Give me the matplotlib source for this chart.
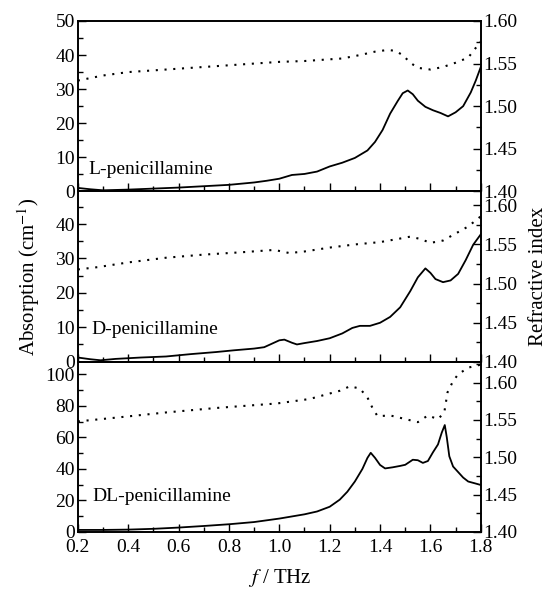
import matplotlib
matplotlib.use("Agg")
import matplotlib.pyplot as plt
from matplotlib.ticker import MultipleLocator, FormatStrFormatter

plt.rcParams["font.family"] = ["Liberation Serif", "DejaVu Serif"]
plt.rcParams["mathtext.fontset"] = "stix"

# L-penicillamine
f_L_abs = [0.20, 0.25, 0.30, 0.40, 0.50, 0.60, 0.70, 0.80, 0.90, 0.95, 1.00, 1.05, 1.10, 1.15,
           1.20, 1.25, 1.30, 1.35, 1.38, 1.41, 1.44, 1.47, 1.49, 1.51, 1.53, 1.55, 1.58, 1.61,
           1.64, 1.67, 1.70, 1.73, 1.76, 1.78, 1.80]
abs_L = [1.0, 0.6, 0.3, 0.5, 0.8, 1.1, 1.5, 1.9, 2.6, 3.1, 3.7, 4.8, 5.1, 5.8,
         7.3, 8.4, 9.8, 12.0, 14.5, 18.0, 22.8, 26.5, 28.8, 29.6, 28.5, 26.6, 24.8, 23.8,
         23.0, 22.0, 23.2, 25.0, 29.0, 32.5, 36.5]
f_L_n = [0.20, 0.25, 0.30, 0.40, 0.55, 0.70, 0.85, 1.00, 1.10, 1.25, 1.32, 1.38, 1.43, 1.46,
         1.49, 1.52, 1.55, 1.60, 1.65, 1.70, 1.75, 1.80]
n_L = [1.530, 1.533, 1.536, 1.540, 1.543, 1.546, 1.549, 1.552, 1.553, 1.556, 1.560, 1.564,
       1.566, 1.565, 1.560, 1.551, 1.545, 1.543, 1.546, 1.551, 1.557, 1.576]

# D-penicillamine
f_D_abs = [0.20, 0.25, 0.29, 0.35, 0.45, 0.55, 0.65, 0.75, 0.82, 0.90, 0.94, 0.97, 1.00, 1.02,
           1.05, 1.07, 1.10, 1.15, 1.20, 1.25, 1.29, 1.32, 1.36, 1.40, 1.44, 1.48, 1.52, 1.55,
           1.58, 1.60, 1.62, 1.65, 1.68, 1.71, 1.74, 1.77, 1.80]
abs_D = [1.2, 0.7, 0.4, 0.8, 1.2, 1.5, 2.2, 2.8, 3.3, 3.8, 4.2, 5.2, 6.2, 6.4,
         5.5, 5.0, 5.4, 6.0, 6.8, 8.2, 9.8, 10.4, 10.4, 11.3, 13.0, 15.8, 20.5, 24.5,
         27.1, 25.8, 24.0, 23.1, 23.6, 25.5, 29.5, 34.0, 37.0]
f_D_n = [0.20, 0.28, 0.40, 0.55, 0.70, 0.85, 0.98, 1.04, 1.10, 1.20, 1.30, 1.40, 1.47, 1.52,
         1.56, 1.60, 1.65, 1.70, 1.75, 1.80]
n_D = [1.518, 1.521, 1.527, 1.533, 1.537, 1.540, 1.543, 1.539, 1.541, 1.546, 1.550, 1.553,
       1.557, 1.560, 1.557, 1.552, 1.555, 1.564, 1.573, 1.586]

# DL-penicillamine
f_DL_abs = [0.20, 0.30, 0.40, 0.50, 0.60, 0.70, 0.80, 0.90, 1.00, 1.10, 1.15, 1.20, 1.24, 1.27,
            1.30, 1.33, 1.35, 1.363, 1.38, 1.40, 1.42, 1.45, 1.48, 1.50, 1.53, 1.55, 1.57, 1.59,
            1.61, 1.63, 1.645, 1.657, 1.665, 1.675, 1.69, 1.71, 1.73, 1.75, 1.78, 1.80]
abs_DL = [1.3, 1.3, 1.5, 2.0, 2.8, 3.8, 4.9, 6.3, 8.5, 11.2, 13.0, 16.0, 20.5, 25.5,
          32.0, 40.0, 47.0, 50.2, 47.0, 42.5, 40.3, 41.0, 41.9, 42.6, 45.8, 45.5, 43.8, 45.0,
          50.5, 55.5, 63.0, 67.8, 60.0, 48.0, 41.5, 38.0, 34.5, 32.0, 30.7, 29.8]
f_DL_n = [0.20, 0.35, 0.55, 0.75, 0.99, 1.12, 1.24, 1.28, 1.32, 1.35, 1.37, 1.39, 1.44, 1.49,
          1.55, 1.59, 1.63, 1.655, 1.668, 1.69, 1.71, 1.75, 1.80]
n_DL = [1.548, 1.553, 1.560, 1.566, 1.572, 1.578, 1.589, 1.595, 1.592, 1.580, 1.566, 1.555,
        1.556, 1.552, 1.547, 1.556, 1.551, 1.560, 1.587, 1.602, 1.611, 1.620, 1.624]

panels = [
    ("L-penicillamine", f_L_abs, abs_L, f_L_n, n_L, (0, 50), (1.40, 1.60), 10, 5, (0.025, 0.13)),
    ("D-penicillamine", f_D_abs, abs_D, f_D_n, n_D, (0, 49.5), (1.40, 1.618), 10, 5, (0.034, 0.186)),
    ("DL-penicillamine", f_DL_abs, abs_DL, f_DL_n, n_DL, (0, 108), (1.40, 1.628), 20, 10, (0.036, 0.21)),
]

fig, axes = plt.subplots(3, 1, figsize=(5.52, 5.93), dpi=100, sharex=True)
fig.subplots_adjust(left=0.141, right=0.871, top=0.9646, bottom=0.1029, hspace=0)

fs = 14
for ax, (name, fa, a, fn, n, ylim, nlim, maj, mnr, tpos) in zip(axes, panels):
    ax.plot(fa, a, color="black", lw=1.3)
    ax.set_ylim(*ylim)
    ax.set_xlim(0.2, 1.8)
    ax.yaxis.set_major_locator(MultipleLocator(maj))
    ax.yaxis.set_minor_locator(MultipleLocator(mnr))
    ax.xaxis.set_major_locator(MultipleLocator(0.2))
    ax.xaxis.set_minor_locator(MultipleLocator(0.1))
    ax.xaxis.set_major_formatter(FormatStrFormatter("%.1f"))
    ax.tick_params(which="both", direction="in", top=False, right=False, labelsize=fs)
    ax.tick_params(axis="y", pad=2)
    ax.tick_params(axis="x", pad=5)
    ax.tick_params(which="major", length=6, width=1)
    ax.tick_params(which="minor", length=3.5, width=1)
    for s in ax.spines.values():
        s.set_linewidth(1.2)
    ax.text(tpos[0], tpos[1], name, transform=ax.transAxes, fontsize=fs,
            ha="left", va="center")

    ax2 = ax.twinx()
    ax2.plot(fn, n, color="black", lw=1.5, linestyle=(0, (1, 3.2)))
    ax2.set_ylim(*nlim)
    ax2.yaxis.set_major_locator(MultipleLocator(0.05))
    ax2.yaxis.set_minor_locator(MultipleLocator(0.025))
    ax2.yaxis.set_major_formatter(FormatStrFormatter("%.2f"))
    ax2.tick_params(which="both", direction="in", labelsize=fs, pad=2)
    ax2.tick_params(which="major", length=6, width=1)
    ax2.tick_params(which="minor", length=3.5, width=1)
    for s in ax2.spines.values():
        s.set_linewidth(1.2)
    if ax is axes[1]:
        ax2.set_ylabel("Refractive index", fontsize=15, labelpad=8)

axes[1].set_ylabel("Absorption (cm$^{-1}$)", fontsize=15, labelpad=10)
axes[2].set_xlabel("$f$ / THz", fontsize=15, labelpad=8)

fig.savefig("out.png", dpi=100)
